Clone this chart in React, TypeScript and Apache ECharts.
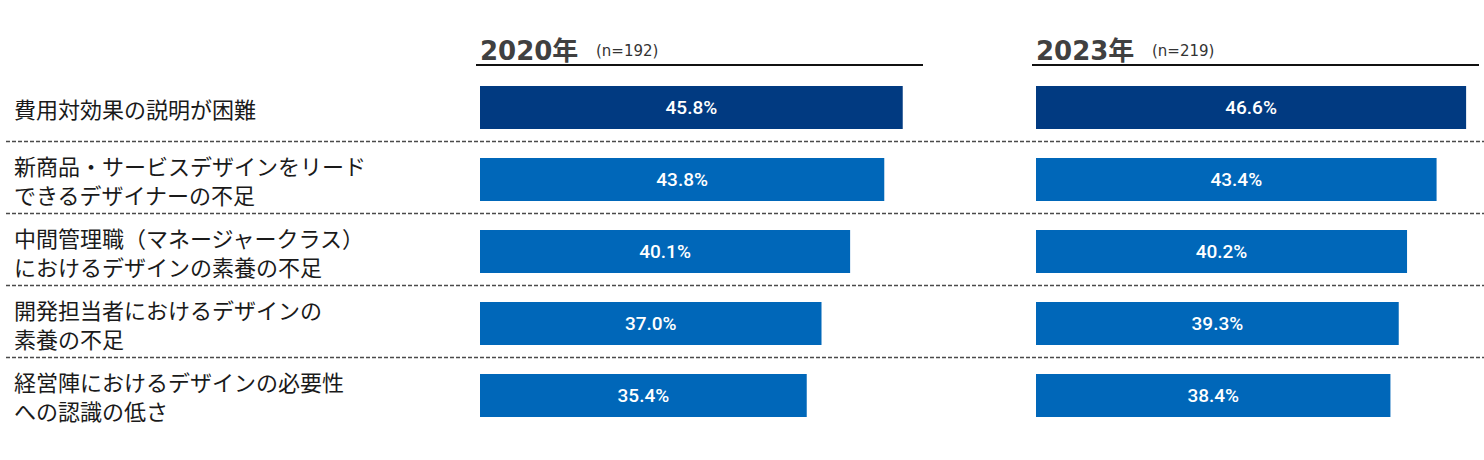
import React, { useEffect, useRef } from "react";
import * as echarts from "echarts";

const categories = [
  "費用対効果の説明が困難",
  "新商品・サービスデザインをリード\nできるデザイナーの不足",
  "中間管理職（マネージャークラス）\nにおけるデザインの素養の不足",
  "開発担当者におけるデザインの\n素養の不足",
  "経営陣におけるデザインの必要性\nへの認識の低さ",
];
const values2020 = [45.8, 43.8, 40.1, 37.0, 35.4];
const values2023 = [46.6, 43.4, 40.2, 39.3, 38.4];
const yearTitles = ["2020年", "2023年"];
const sampleSizes = ["(n=192)", "(n=219)"];

const DARK = "#013a81";
const BLUE = "#0067b9";
const PX_PER_UNIT = 9.23;
const X_MAX = 47;
const GRID_W = X_MAX * PX_PER_UNIT;
const GRID_TOP = 71.5;
const ROW = 72;
const GRID_LEFTS = [480, 1036];

export default function App() {
  const ref = useRef<HTMLDivElement>(null);
  useEffect(() => {
    if (!ref.current) return;
    const chart = echarts.init(ref.current, null, { renderer: "svg" });
    const mkSeries = (vals: number[], idx: number) => ({
      type: "bar",
      xAxisIndex: idx,
      yAxisIndex: idx,
      data: vals,
      barWidth: 43,
      itemStyle: {
        color: (p: any) => (p.dataIndex === 0 ? DARK : BLUE),
      },
      label: {
        show: true,
        position: "inside",
        formatter: (p: any) => p.value.toFixed(1) + "%",
        color: "#ffffff",
        fontSize: 19,
        fontFamily: "Roboto",
        fontWeight: 500,
      },
    });
    const seps: any[] = [];
    for (let i = 1; i < categories.length; i++) {
      const y = GRID_TOP + ROW * i - 2;
      seps.push({
        type: "line",
        shape: { x1: 6, y1: y, x2: 1484, y2: y },
        style: { stroke: "#4a4a4a", lineWidth: 1.5, lineDash: [4, 2] },
        silent: true,
      });
    }
    const headers: any[] = [];
    GRID_LEFTS.forEach((left, i) => {
      headers.push({
        type: "text",
        x: left,
        y: 51,
        style: {
          text: yearTitles[i],
          font: "bold 26px 'DejaVu Sans', 'Noto Sans CJK JP'",
          fill: "#404040",
          verticalAlign: "middle",
        },
      });
      headers.push({
        type: "text",
        x: left + 116,
        y: 51,
        style: {
          text: sampleSizes[i],
          font: "15px 'DejaVu Sans'",
          fill: "#333",
          verticalAlign: "middle",
        },
      });
      headers.push({
        type: "line",
        shape: { x1: left - 4, y1: 65, x2: left + 443, y2: 65 },
        style: { stroke: "#111", lineWidth: 2 },
      });
    });
    chart.setOption({
      animation: false,
      grid: GRID_LEFTS.map((left) => ({
        left,
        top: GRID_TOP,
        width: GRID_W,
        height: ROW * categories.length,
        containLabel: false,
      })),
      xAxis: [0, 1].map((i) => ({
        type: "value",
        gridIndex: i,
        min: 0,
        max: X_MAX,
        show: false,
      })),
      yAxis: [0, 1].map((i) => ({
        type: "category",
        gridIndex: i,
        data: categories,
        inverse: true,
        axisLine: { show: false },
        axisTick: { show: false },
        splitLine: { show: false },
        axisLabel: {
          show: i === 0,
          align: "left",
          margin: 466,
          fontSize: 22,
          lineHeight: 29,
          color: "#1a1a1a",
          fontFamily: "'Noto Sans CJK JP'",
        },
      })),
      series: [mkSeries(values2020, 0), mkSeries(values2023, 1)],
      graphic: [...seps, ...headers],
    });
    return () => chart.dispose();
  }, []);
  return (
    <div
      ref={ref}
      style={{ position: "fixed", left: 0, top: 0, width: 1484, height: 460, background: "#fff" }}
    />
  );
}
